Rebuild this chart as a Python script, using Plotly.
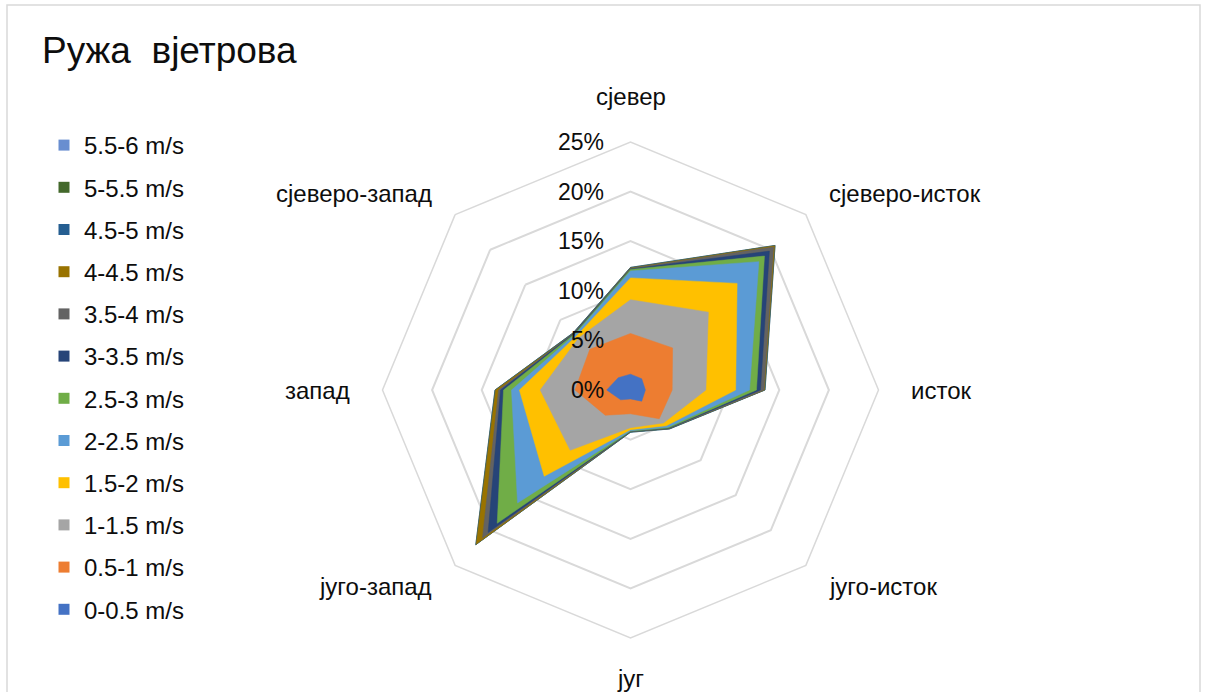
import math
import plotly.graph_objects as go

directions = ["сјевер", "сјеверо-исток", "исток", "југо-исток",
              "југ", "југо-запад", "запад", "сјеверо-запад"]

speed_classes = ["0-0.5 m/s", "0.5-1 m/s", "1-1.5 m/s", "1.5-2 m/s",
                 "2-2.5 m/s", "2.5-3 m/s", "3-3.5 m/s", "3.5-4 m/s",
                 "4-4.5 m/s", "4.5-5 m/s", "5-5.5 m/s", "5.5-6 m/s"]

# cumulative frequency (%) per direction, N, NE, E, SE, S, SW, W, NW
v_0_05 = [1.6, 1.6, 1.5, 1.6, 0.9, 1.4, 2.4, 1.75]
v_05_1 = [5.7, 6.0, 4.2, 4.1, 2.4, 3.6, 5.6, 5.8]
v_1_15 = [9.1, 11.1, 7.6, 4.7, 3.8, 8.6, 9.1, 7.4]
v_15_2 = [11.3, 15.2, 10.6, 5.1, 4.0, 12.3, 11.2, 7.7]
v_2_25 = [12.0, 18.3, 12.0, 5.3, 4.1, 16.1, 12.0, 7.9]
v_25_3 = [12.15, 19.1, 12.7, 5.4, 4.15, 19.0, 12.8, 8.0]
v_3_35 = [12.2, 19.8, 13.1, 5.45, 4.18, 20.3, 13.1, 8.05]
v_35_4 = [12.25, 20.4, 13.45, 5.5, 4.2, 21.1, 13.3, 8.1]
v_4_45 = [12.3, 20.55, 13.5, 5.5, 4.2, 22.0, 13.6, 8.1]
v_45_5 = [12.35, 20.6, 13.55, 5.55, 4.25, 22.05, 13.65, 8.15]
v_5_55 = [12.36, 20.61, 13.56, 5.56, 4.26, 22.06, 13.66, 8.16]
v_55_6 = [12.37, 20.62, 13.57, 5.57, 4.27, 22.07, 13.67, 8.17]

series_values = [v_0_05, v_05_1, v_1_15, v_15_2, v_2_25, v_25_3,
                 v_3_35, v_35_4, v_4_45, v_45_5, v_5_55, v_55_6]

colors = ["#4472C4", "#ED7D31", "#A5A5A5", "#FFC000", "#5B9BD5", "#70AD47",
          "#264478", "#636363", "#997300", "#255E91", "#43682B", "#698ED0"]

radial_ticks = [0, 5, 10, 15, 20, 25]
radial_labels = ["0%", "5%", "10%", "15%", "20%", "25%"]

W, H = 1206, 692
cx, cy, R = 630.5, 390.0, 248.0
RMAX = 25.0

fig = go.Figure()

# filled areas: largest drawn first so smaller ones sit on top
for name, vals, col in reversed(list(zip(speed_classes, series_values, colors))):
    fig.add_trace(go.Scatterpolar(
        r=vals + [vals[0]], theta=directions + [directions[0]],
        mode="lines", fill="toself", fillcolor=col,
        line=dict(color=col, width=0.5),
        name=name, showlegend=False, hoverinfo="skip"))

# legend entries with small square swatches
for name, col in reversed(list(zip(speed_classes, colors))):
    fig.add_trace(go.Scatterpolar(
        r=[None], theta=[None], mode="markers",
        marker=dict(symbol="square", size=11, color=col),
        name=name, legendgroup=name, showlegend=True))

# category labels placed around the octagon (Excel-style placement)
annotations = []
label_r = R + 30
for i, d in enumerate(directions):
    a = math.radians(i * 360 / len(directions))
    s, c = math.sin(a), math.cos(a)
    rr = label_r - 5 if c < -0.9 else label_r
    px = cx + rr * s
    py = cy - rr * c
    xa = "left" if s > 0.1 else ("right" if s < -0.1 else "center")
    ya = "bottom" if c > 0.9 else ("top" if c < -0.9 else "middle")
    annotations.append(dict(text=d, x=px / W, y=1 - py / H, xref="paper", yref="paper",
                            xanchor=xa, yanchor=ya, showarrow=False,
                            font=dict(size=24, color="#0d0d0d")))

# radial axis value labels, left of the vertical axis
for v, t in zip(radial_ticks, radial_labels):
    py = cy - v / RMAX * R
    annotations.append(dict(text=t, x=(cx - 25) / W, y=1 - py / H, xref="paper", yref="paper",
                            xanchor="right", yanchor="middle", showarrow=False,
                            font=dict(size=23, color="#0d0d0d")))

fig.update_layout(
    width=W, height=H,
    margin=dict(l=0, r=0, t=0, b=0),
    paper_bgcolor="white",
    font=dict(family="Liberation Sans, Arial, sans-serif", size=23, color="#0d0d0d"),
    title=dict(text="Ружа  вјетрова", x=42 / W, xanchor="left",
               y=1 - 50 / H, yanchor="middle", xref="container", yref="container",
               font=dict(size=37, color="#0d0d0d")),
    legend=dict(x=44 / W, xanchor="left", y=1 - 123 / H, yanchor="top",
                traceorder="grouped", tracegroupgap=8, itemwidth=30,
                font=dict(size=24), bgcolor="rgba(0,0,0,0)"),
    polar=dict(
        domain=dict(x=[(cx - R) / W, (cx + R) / W], y=[1 - (cy + R) / H, 1 - (cy - R) / H]),
        bgcolor="white",
        gridshape="linear",
        radialaxis=dict(range=[0, RMAX], tickmode="array", tickvals=radial_ticks,
                        showticklabels=False, ticks="",
                        angle=90, showline=False,
                        gridcolor="#D9D9D9", gridwidth=1.5),
        angularaxis=dict(rotation=90, direction="clockwise", showgrid=False,
                         showline=True, linecolor="#D9D9D9", linewidth=1.5,
                         showticklabels=False, ticks="", layer="below traces"),
    ),
    annotations=annotations,
    shapes=[dict(type="rect", xref="paper", yref="paper",
                 x0=7 / W, x1=1200 / W, y0=-0.01, y1=1 - 5 / H,
                 line=dict(color="#D9D9D9", width=1.5))],
)

fig.write_html("out.html", config={"displayModeBar": False},
               post_script="document.body.style.margin='0';document.body.style.overflow='hidden';")
